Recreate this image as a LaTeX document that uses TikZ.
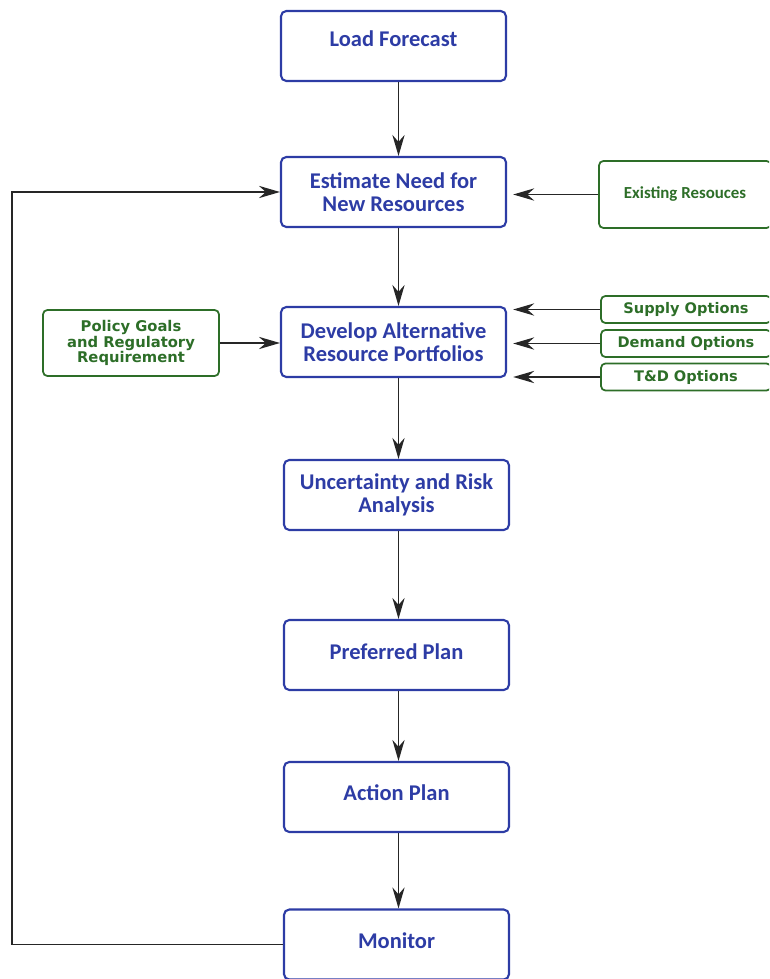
\documentclass[tikz,border=0pt]{standalone}
\usepackage{fontspec}
\setmainfont{Carlito}
\newfontfamily\optfont{DejaVu Sans}
\usetikzlibrary{arrows.meta}

\definecolor{stepblue}{RGB}{45,60,165}
\definecolor{inputgreen}{RGB}{45,110,40}

\begin{document}
\begin{tikzpicture}[x=0.02cm, y=-0.02cm,
    stepbox/.style={draw=stepblue, line width=1.2pt, rounded corners=3pt,
        minimum width=4.5cm, minimum height=1.4cm, align=center,
        text=stepblue, font=\bfseries\fontsize{12.8}{13}\selectfont},
    inbox/.style={draw=inputgreen, line width=1pt, rounded corners=2.5pt,
        align=center, text=inputgreen},
    optbox/.style={inbox, minimum width=3.4cm, minimum height=0.54cm,
        font=\optfont\bfseries\fontsize{8.3}{9}\selectfont},
    flow/.style={draw=black!85, line width=0.8pt, -{Stealth[length=12pt, width=7pt, inset=4pt]}}]
    \clip (0,0) rectangle (769,979);

    % main chain
    \node[stepbox, text depth=8pt] (load) at (393.5,46) {Load Forecast};
    \node[stepbox] (need) at (393.5,192) {Estimate Need for\\New Resources};
    \node[stepbox] (dev)  at (393.5,342) {Develop Alternative\\Resource Portfolios};
    \node[stepbox] (risk) at (396.5,495) {Uncertainty and Risk\\Analysis};
    \node[stepbox, text depth=4pt] (pref) at (396.5,655) {Preferred Plan};
    \node[stepbox, text depth=5pt] (act)  at (396.5,797) {Action Plan};
    \node[stepbox, text depth=4pt] (mon)  at (396.5,944.5) {Monitor};

    % inputs
    \node[inbox, minimum width=3.44cm, minimum height=1.34cm,
        font=\bfseries\fontsize{9.6}{11}\selectfont] (exist) at (685,194.5) {Existing Resouces};
    \node[optbox] (supply) at (686,309.5) {Supply Options};
    \node[optbox] (demand) at (686,343.5) {Demand Options};
    \node[optbox] (td)     at (686,377)   {T\&D Options};
    \node[inbox, minimum width=3.52cm, minimum height=1.32cm,
        font=\optfont\bfseries\fontsize{8.4}{9}\selectfont] (policy) at (131,343)
        {Policy Goals\\and Regulatory\\Requirement};

    \coordinate (col) at (398.5,0);
    \coordinate (fb) at (12,944.5);

    % connectors
    \draw[flow] (load.south -| col) -- (need.north -| col);
    \draw[flow] (need.south -| col) -- (dev.north -| col);
    \draw[flow] (dev.south -| col) -- (risk.north -| col);
    \draw[flow] (risk.south -| col) -- (pref.north -| col);
    \draw[flow] (pref.south -| col) -- (act.north -| col);
    \draw[flow] (act.south -| col) -- (mon.north -| col);
    \draw[flow, shorten >=3.5pt] (exist.west) -- (need.east |- exist.west);
    \draw[flow, shorten >=3.5pt] (supply.west) -- (dev.east |- supply.west);
    \draw[flow, shorten >=3.5pt] (demand.west) -- (dev.east |- demand.west);
    \draw[flow, shorten >=3.5pt] (td.west) -- (dev.east |- td.west);
    \draw[flow] (policy.east) -- (dev.west |- policy.east);
    \draw[flow] (mon.west) -- (fb) |- (need.west);
\end{tikzpicture}
\end{document}
